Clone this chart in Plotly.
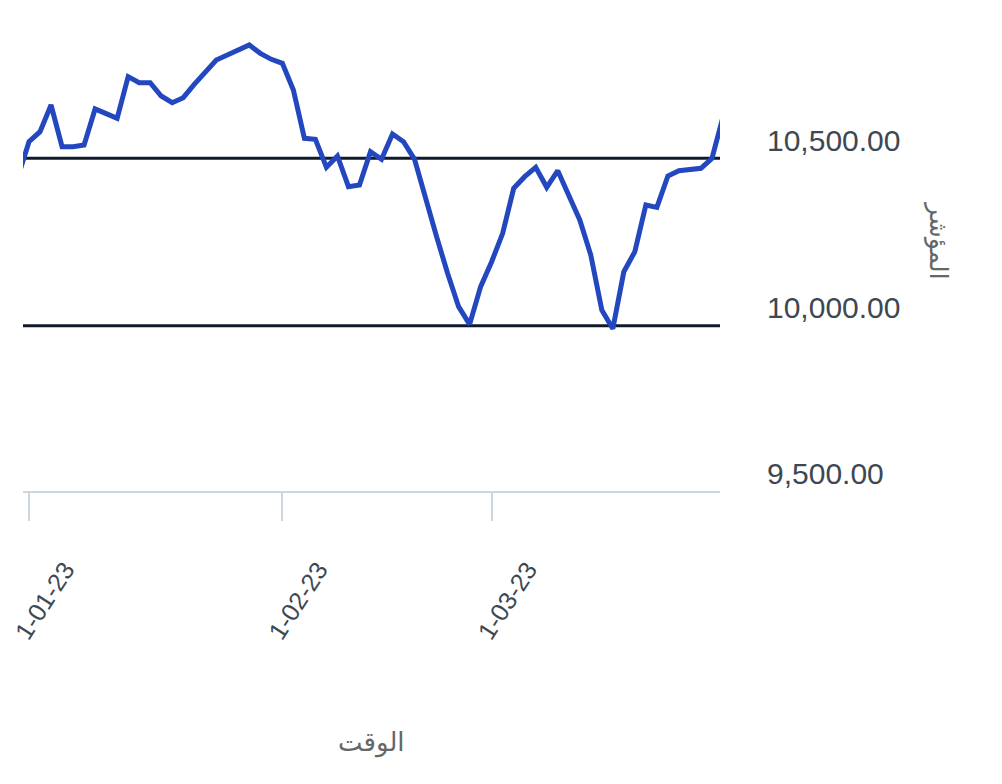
import plotly.graph_objects as go

# ---- data ----
dates = [
    "2022-12-29",
    "2023-01-01", "2023-01-02", "2023-01-03", "2023-01-04", "2023-01-05",
    "2023-01-08", "2023-01-09", "2023-01-10", "2023-01-11", "2023-01-12",
    "2023-01-15", "2023-01-16", "2023-01-17", "2023-01-18", "2023-01-19",
    "2023-01-22", "2023-01-23", "2023-01-24", "2023-01-25", "2023-01-26",
    "2023-01-29", "2023-01-30", "2023-01-31",
    "2023-02-01", "2023-02-02",
    "2023-02-05", "2023-02-06", "2023-02-07", "2023-02-08", "2023-02-09",
    "2023-02-12", "2023-02-13", "2023-02-14", "2023-02-15", "2023-02-16",
    "2023-02-19", "2023-02-20", "2023-02-21", "2023-02-23",
    "2023-02-26", "2023-02-27", "2023-02-28",
    "2023-03-01", "2023-03-02",
    "2023-03-05", "2023-03-06", "2023-03-07", "2023-03-08", "2023-03-09",
    "2023-03-12", "2023-03-13", "2023-03-14", "2023-03-15", "2023-03-16",
    "2023-03-19", "2023-03-20", "2023-03-21", "2023-03-22", "2023-03-23",
    "2023-03-26", "2023-03-27", "2023-03-28", "2023-03-29", "2023-03-30",
]
index_values = [
    10390, 10496, 10526, 10606, 10481, 10481, 10486, 10594, 10580, 10566,
    10691, 10673, 10673, 10633, 10613, 10628, 10668, 10706, 10741, 10756,
    10769, 10786, 10761, 10743, 10731, 10651, 10506, 10503, 10419, 10453,
    10361, 10366, 10466, 10443, 10519, 10496, 10443, 10321, 10211, 10101,
    10001, 9948, 10061, 10136, 10221, 10356, 10391, 10419, 10359, 10409,
    10333, 10261, 10156, 9991, 9935, 10106, 10166, 10306, 10299, 10393,
    10409, 10413, 10416, 10446, 10570,
]
tick_dates = ["2023-01-01", "2023-02-01", "2023-03-01"]
tick_labels = ["1-01-23", "1-02-23", "1-03-23"]
y_ticks = [9500, 10000, 10500]
level_lines = [10446, 9944]

x_title = "الوقت"
y_title = "المؤشر"

# ---- figure ----
fig = go.Figure()
fig.add_trace(go.Scatter(
    x=dates, y=index_values, mode="lines",
    line=dict(color="#2347BE", width=5),
    showlegend=False, hoverinfo="skip",
))

for lv in level_lines:
    fig.add_shape(type="line", xref="paper", x0=0, x1=1, yref="y", y0=lv, y1=lv,
                  line=dict(color="#0f1b2a", width=3), layer="below")

font_family = "Liberation Sans, Arial, DejaVu Sans, sans-serif"

fig.update_layout(
    width=986, height=768,
    margin=dict(l=15, r=274, t=10, b=285, pad=0, autoexpand=False),
    paper_bgcolor="white", plot_bgcolor="white",
    font=dict(family=font_family, color="#3d4852"),
    xaxis=dict(
        type="category",
        range=[0.454, 63.73],
        tickmode="array", tickvals=tick_dates, ticktext=tick_labels,
        tickangle=-57,
        tickfont=dict(size=25, color="#3d4852"),
        ticks="outside", ticklen=28, tickwidth=2, tickcolor="#cdd5e0",
        showline=True, linecolor="#cdd5e0", linewidth=2,
        showgrid=False, zeroline=False,
        ticklabelshift=36, ticklabelstandoff=24,
    ),
    yaxis=dict(
        side="right",
        range=[9448, 10867],
        tickmode="array", tickvals=y_ticks,
        tickformat=",.2f",
        tickfont=dict(size=30, color="#3d4852"),
        ticks="", showline=False, showgrid=False, zeroline=False,
        ticklabelstandoff=46,
    ),
    annotations=[
        dict(text=x_title, xref="paper", yref="paper", x=0.5, y=-0.5307,
             xanchor="center", yanchor="middle", showarrow=False,
             font=dict(size=26, color="#666666", family="DejaVu Sans, sans-serif")),
        dict(text=y_title, xref="paper", yref="paper", x=1.3128, y=0.5307,
             xanchor="center", yanchor="middle", showarrow=False, textangle=90,
             font=dict(size=25, color="#666666", family="DejaVu Sans, sans-serif")),
    ],
)

fig.write_html("out.html")
